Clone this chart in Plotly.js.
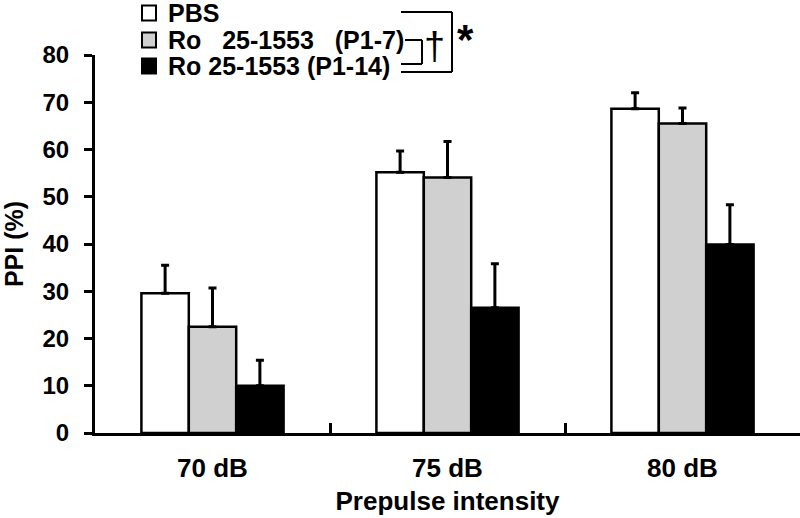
<!DOCTYPE html>
<html><head><meta charset="utf-8">
<script src="https://cdn.plot.ly/plotly-3.0.1.min.js"></script>
<style>body{margin:0;background:#fff}#chart{width:800px;height:518px}</style>
</head><body><div id="chart"></div>
<script>
const categories = ['70 dB', '75 dB', '80 dB'];
const seriesNames = ['PBS', 'Ro   25-1553   (P1-7)', 'Ro 25-1553 (P1-14)'];
const pbs = [29.6, 55.2, 68.6];
const pbsErr = [5.9, 4.5, 3.4];
const ro7 = [22.5, 54.1, 65.5];
const ro7Err = [8.2, 7.6, 3.3];
const ro14 = [10.0, 26.5, 39.9];
const ro14Err = [5.4, 9.3, 8.4];
const yTicks = [0, 10, 20, 30, 40, 50, 60, 70, 80];

const fills = ['#ffffff', '#d0d0d0', '#000000'];
const FONT = 'Arial, "Liberation Sans", sans-serif';
const vals = [pbs, ro7, ro14];
const errs = [pbsErr, ro7Err, ro14Err];

const traces = vals.map((v, i) => ({
  type: 'bar', x: categories, y: v, name: seriesNames[i],
  marker: {color: fills[i], line: {color: '#000', width: 2.5}},
  error_y: {type: 'data', array: errs[i], arrayminus: errs[i].map(() => 0), symmetric: false,
            color: '#000', thickness: 3, width: 4},
  showlegend: false, hoverinfo: 'skip'
}));

// plot area pixels
const L = 95, R = 800, T = 55, B = 433;
const px = x => (x - L) / (R - L);
const py = y => (B - y) / (B - T);

const shapes = [];
const annotations = [];
const rowY = [13, 40, 66];
rowY.forEach((y, i) => {
  shapes.push({type: 'rect', xref: 'paper', yref: 'paper', x0: px(142), x1: px(156), y0: py(y + 7.5), y1: py(y - 7.5),
    fillcolor: fills[i], line: {color: '#000', width: 2}});
  annotations.push({xref: 'paper', yref: 'paper', x: px(166), y: py(y), xanchor: 'left', yanchor: 'middle',
    text: seriesNames[i].replace(/ /g, '&nbsp;'), showarrow: false,
    font: {family: FONT, size: 25, color: '#000', weight: 'bold'}});
});
const line = (x0, y0, x1, y1) => shapes.push({type: 'line', xref: 'paper', yref: 'paper',
  x0: px(x0), y0: py(y0), x1: px(x1), y1: py(y1), line: {color: '#000', width: 2}});
// inner bracket
line(405, 40, 422, 40); line(422, 40, 422, 64); line(401, 64, 422, 64);
// outer bracket
line(401, 12, 452, 12); line(452, 12, 452, 72); line(401, 72, 452, 72);
annotations.push({xref: 'paper', yref: 'paper', x: px(434), y: py(46), xanchor: 'center', yanchor: 'middle',
  text: '†', showarrow: false, font: {family: FONT, size: 38, color: '#000'}});
annotations.push({xref: 'paper', yref: 'paper', x: px(465), y: py(40), xanchor: 'center', yanchor: 'middle',
  text: '*', showarrow: false, font: {family: FONT, size: 42, color: '#000', weight: 'bold'}});

const layout = {
  width: 800, height: 518,
  margin: {l: L, r: 800 - R, t: T, b: 518 - B},
  paper_bgcolor: '#fff', plot_bgcolor: '#fff',
  barmode: 'group', bargap: 0.395, bargroupgap: 0,
  font: {family: FONT, color: '#000'},
  xaxis: {
    type: 'category', range: [-0.5, 2.5], showline: true, linecolor: '#000', linewidth: 3,
    ticks: 'inside', tickson: 'boundaries', ticklen: 10, tickwidth: 3, tickcolor: '#000',
    ticklabelstandoff: 10,
    tickfont: {family: FONT, size: 26, weight: 'bold'}, showgrid: false, zeroline: false,
    title: {text: 'Prepulse intensity', font: {family: FONT, size: 26, weight: 'bold'}, standoff: 10}
  },
  yaxis: {
    range: [0, 80], tickvals: yTicks, showline: true, linecolor: '#000', linewidth: 3,
    ticks: 'outside', ticklen: 8, tickwidth: 3, tickcolor: '#000', showgrid: false, zeroline: false,
    ticklabelstandoff: 10,
    tickfont: {family: FONT, size: 24, weight: 'bold'},
    title: {text: 'PPI (%)', font: {family: FONT, size: 25, weight: 'bold'}, standoff: 12}
  },
  shapes, annotations
};
Plotly.newPlot('chart', traces, layout, {displayModeBar: false, staticPlot: true});
</script></body></html>
